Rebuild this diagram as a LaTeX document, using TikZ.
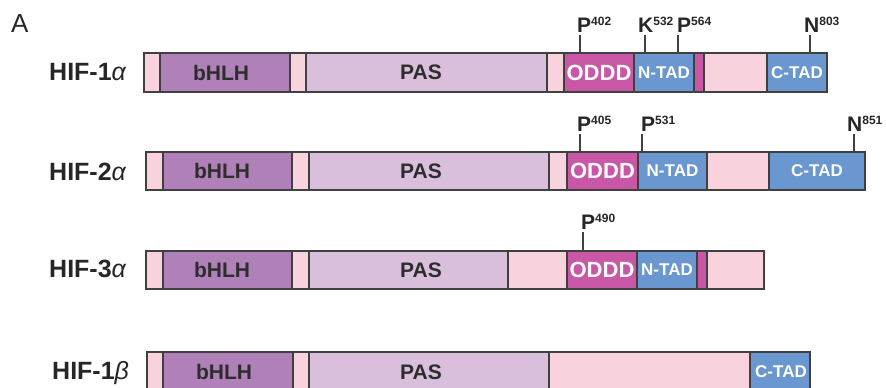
\documentclass[tikz,border=0pt]{standalone}
\usepackage{fontspec}
\setmainfont{Liberation Sans}
\definecolor{cpink}{RGB}{248,211,221}
\definecolor{cbhlh}{RGB}{176,128,184}
\definecolor{cpas}{RGB}{217,191,219}
\definecolor{coddd}{RGB}{200,88,165}
\definecolor{cblue}{RGB}{106,151,208}
\definecolor{cline}{RGB}{64,64,64}
\definecolor{ctext}{RGB}{45,45,45}
\newcommand\segbox[7]{%
  \node[segbox, fill=#2, minimum width={#4-#3}, minimum height={#6-#5}, anchor=north west] (#1) at (#3,#5) {#7};}
\newcommand\fsz[1]{\fontsize{#1}{#1}\selectfont}
\newcommand\site[2]{\textbf{\fsz{21}#1\raisebox{6.5pt}{\fsz{12}#2}}}
\begin{document}
\begin{tikzpicture}[x=1pt,y=-1pt,
  segbox/.style={draw=cline, line width=1.4pt, inner sep=0pt, outer sep=0pt, rectangle},
  dark/.style={text=ctext, font=\bfseries\fsz{21}},
  wbig/.style={text=white, font=\bfseries\fsz{22}},
  wsmall/.style={text=white, font=\bfseries\fsz{17}},
  rowlab/.style={anchor=base west, inner sep=0pt, text=black!85, font=\bfseries\fsz{25}},
  sitelab/.style={anchor=base west, inner sep=0pt, text=black!85},
  tick/.style={draw=cline, line width=1.3pt}]
\useasboundingbox (0,0) rectangle (886,388);
\clip (0,0) rectangle (886,388);
\node[anchor=base west, inner sep=0pt, text=black!85, font=\fsz{26}] (panel) at (11,32) {A};

% ---------- HIF-1alpha ----------
\node[rowlab] (l1) at (49,80) {HIF-1{\mdseries\itshape α}};
\segbox{a1}{cpink}{144}{160}{53}{92}{}
\segbox{b1}{cbhlh}{160}{290}{53}{92}{}
\segbox{c1}{cpink}{290}{306}{53}{92}{}
\segbox{d1}{cpas}{306}{547}{53}{92}{}
\segbox{e1}{cpink}{547}{564}{53}{92}{}
\segbox{f1}{coddd}{564}{634}{53}{92}{}
\segbox{g1}{cblue}{634}{694}{53}{92}{}
\segbox{h1}{coddd}{694}{704}{53}{92}{}
\segbox{i1}{cpink}{704}{767}{53}{92}{}
\segbox{j1}{cblue}{767}{827}{53}{92}{}
\node[dark] (tb1) at (221,72.5) {bHLH};
\node[dark] (tp1) at (421,72.5) {PAS};
\node[wbig] (to1) at (f1.center) {ODDD};
\node[wsmall] (tn1) at (g1.center) {N-TAD};
\node[wsmall] (tc1) at (j1.center) {C-TAD};
\coordinate (s11) at (580,35);
\coordinate (s12) at (645,35);
\coordinate (s13) at (678,35);
\coordinate (s14) at (810,35);
\node[sitelab] (m11) at (577,32) {\site{P}{402}};
\node[sitelab] (m12) at (638,32) {\site{K}{532}};
\node[sitelab] (m13) at (677,32) {\site{P}{564}};
\node[sitelab] (m14) at (804,32) {\site{N}{803}};
\draw[tick] (s11) -- (s11 |- f1.north);
\draw[tick] (s12) -- (s12 |- g1.north);
\draw[tick] (s13) -- (s13 |- g1.north);
\draw[tick] (s14) -- (s14 |- j1.north);

% ---------- HIF-2alpha ----------
\node[rowlab] (l2) at (49,180) {HIF-2{\mdseries\itshape α}};
\segbox{a2}{cpink}{146}{163}{152}{190}{}
\segbox{b2}{cbhlh}{163}{292}{152}{190}{}
\segbox{c2}{cpink}{292}{309}{152}{190}{}
\segbox{d2}{cpas}{309}{549}{152}{190}{}
\segbox{e2}{cpink}{549}{567}{152}{190}{}
\segbox{f2}{coddd}{567}{638}{152}{190}{}
\segbox{g2}{cblue}{638}{707}{152}{190}{}
\segbox{i2}{cpink}{707}{769}{152}{190}{}
\segbox{j2}{cblue}{769}{865}{152}{190}{}
\node[dark] (tb2) at (222,171) {bHLH};
\node[dark] (tp2) at (421,171) {PAS};
\node[wbig] (to2) at (f2.center) {ODDD};
\node[wsmall] (tn2) at (g2.center) {N-TAD};
\node[wsmall] (tc2) at (j2.center) {C-TAD};
\coordinate (s21) at (580,134);
\coordinate (s22) at (642,134);
\coordinate (s23) at (854,134);
\node[sitelab] (m21) at (577,131) {\site{P}{405}};
\node[sitelab] (m22) at (641,131) {\site{P}{531}};
\node[sitelab] (m23) at (847,131) {\site{N}{851}};
\draw[tick] (s21) -- (s21 |- f2.north);
\draw[tick] (s22) -- (s22 |- g2.north);
\draw[tick] (s23) -- (s23 |- j2.north);

% ---------- HIF-3alpha ----------
\node[rowlab] (l3) at (49,277) {HIF-3{\mdseries\itshape α}};
\segbox{a3}{cpink}{146}{163}{251}{289}{}
\segbox{b3}{cbhlh}{163}{292}{251}{289}{}
\segbox{c3}{cpink}{292}{309}{251}{289}{}
\segbox{i3a}{cpink}{508}{567}{251}{289}{}
\node[segbox, line width=2pt, fill=cpas, minimum width=199, minimum height=38, anchor=north west] (d3) at (309,251) {};
\segbox{f3}{coddd}{567}{637}{251}{289}{}
\segbox{g3}{cblue}{637}{697}{251}{289}{}
\segbox{h3}{coddd}{697}{707}{251}{289}{}
\segbox{i3}{cpink}{707}{764}{251}{289}{}
\node[dark] (tb3) at (222,270) {bHLH};
\node[dark] (tp3) at (421,270) {PAS};
\node[wbig] (to3) at (f3.center) {ODDD};
\node[wsmall] (tn3) at (g3.center) {N-TAD};
\coordinate (s31) at (583,232);
\node[sitelab] (m31) at (581,229) {\site{P}{490}};
\draw[tick] (s31) -- (s31 |- f3.north);

% ---------- HIF-1beta ----------
\node[rowlab] (l4) at (52,379) {HIF-1{\mdseries\itshape β}};
\segbox{a4}{cpink}{147}{163}{352}{392}{}
\segbox{b4}{cbhlh}{163}{293}{352}{392}{}
\segbox{c4}{cpink}{293}{309}{352}{392}{}
\segbox{d4}{cpas}{309}{549}{352}{392}{}
\segbox{e4}{cpink}{549}{750}{352}{392}{}
\segbox{j4}{cblue}{750}{810}{352}{392}{}
\node[dark] (tb4) at (224,372) {bHLH};
\node[dark] (tp4) at (421,372) {PAS};
\node[wsmall] (tc4) at (781,372) {C-TAD};
\end{tikzpicture}
\end{document}
